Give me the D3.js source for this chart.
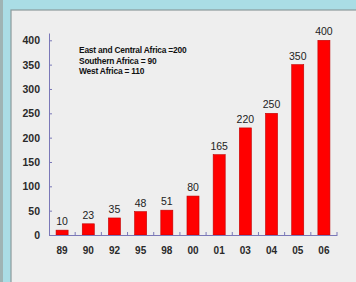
<!DOCTYPE html>
<html><head><meta charset="utf-8">
<script src="https://cdn.jsdelivr.net/npm/d3@7"></script>
<style>html,body{margin:0;padding:0;background:#a9dce4;}svg{display:block;}</style>
</head><body>
<script>
const categories = ["89","90","92","95","98","00","01","03","04","05","06"];
const values = [10,23,35,48,51,80,165,220,250,350,400];
const yTicks = [0,50,100,150,200,250,300,350,400];
const notes = ["East and Central Africa =200","Southern Africa = 90","West Africa = 110"];

const W = 356, H = 282;
const svg = d3.select("body").append("svg").attr("width", W).attr("height", H);

// frame
svg.append("rect").attr("x",0).attr("y",0).attr("width",W).attr("height",H).attr("fill","#aadde5");
svg.append("rect").attr("x",0).attr("y",0).attr("width",3).attr("height",H).attr("fill","#9fb4b4");
svg.append("rect").attr("x",11).attr("y",10).attr("width",W).attr("height",H).attr("fill","#eeeeee")
  .attr("stroke","#8c9a9c").attr("stroke-width",1.2);

const margin = {left:49, right:19, top:33, bottom:47};
const x = d3.scaleBand().domain(categories).range([margin.left, W - margin.right]).paddingInner(0.54).paddingOuter(0.27);
const y = d3.scaleLinear().domain([0, 415]).range([235, 33]);

const font = "Arial, 'Liberation Sans', sans-serif";

// bars
svg.append("g").selectAll("rect").data(values).join("rect")
  .attr("x", (d,i) => x(categories[i]))
  .attr("y", d => y(d))
  .attr("width", x.bandwidth())
  .attr("height", d => y(0) - y(d))
  .attr("fill", "#ff0000")
  .attr("stroke", "#c00000").attr("stroke-width", 0.6);

// value labels
svg.append("g").selectAll("text").data(values).join("text")
  .attr("x", (d,i) => x(categories[i]) + x.bandwidth()/2)
  .attr("y", d => y(d) - 5)
  .attr("text-anchor","middle")
  .attr("font-family", font).attr("font-size", 10.5).attr("fill","#222")
  .text(d => d);

// y axis
const yAxis = svg.append("g").attr("transform", `translate(${margin.left},0)`)
  .call(d3.axisLeft(y).tickValues(yTicks).tickSize(-3).tickPadding(9).tickSizeOuter(0));
yAxis.select(".domain").attr("stroke","#7a78b8").attr("stroke-width",1);
yAxis.selectAll(".tick line").attr("stroke","#7a78b8");
yAxis.selectAll("text").attr("font-family", font).attr("font-size", 10.5).attr("font-weight","bold").attr("fill","#2a2a2a");

// x axis
const xAxis = svg.append("g").attr("transform", `translate(0,${y(0)})`)
  .call(d3.axisBottom(x).tickSize(0).tickPadding(12).tickSizeOuter(0));
xAxis.select(".domain").attr("stroke","#7a78b8").attr("stroke-width",1.2);
xAxis.selectAll("text").attr("font-family", font).attr("font-size", 10).attr("font-weight","bold").attr("fill","#2a2a2a");

// boundary ticks on x axis
const bounds = d3.range(1, categories.length + 1).map(i => margin.left + i * x.step());
svg.append("g").selectAll("line").data(bounds).join("line")
  .attr("x1", d => d).attr("x2", d => d)
  .attr("y1", y(0)).attr("y2", y(0) - 3)
  .attr("stroke","#7a78b8");

// notes
svg.append("g").selectAll("text").data(notes).join("text")
  .attr("x", 79).attr("y", (d,i) => 53 + i*10.5)
  .attr("font-family", font).attr("font-size", 8.4).attr("font-weight","bold")
  .attr("letter-spacing", -0.2).attr("fill","#111")
  .text(d => d);
</script>
</body></html>
